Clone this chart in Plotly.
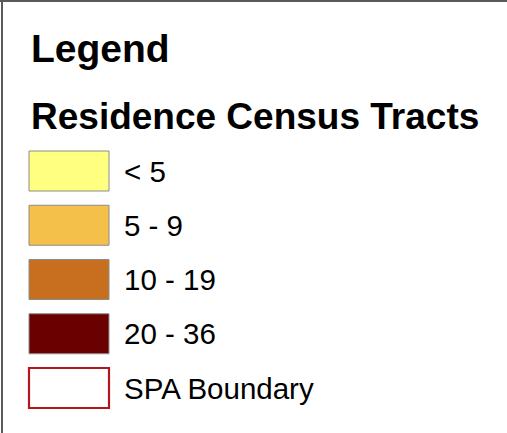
import plotly.graph_objects as go

title_text = "Legend"
subtitle_text = "Residence Census Tracts"
categories = ["< 5", "5 - 9", "10 - 19", "20 - 36", "SPA Boundary"]
fill_colors = ["#FFFF80", "#F5C04A", "#C76F1E", "#6A0000", "#FFFFFF"]
edge_colors = ["#8C8C8C", "#8C8C8C", "#8C8C8C", "#8C8C8C", "#B2181B"]
edge_widths = [1, 1, 1, 1, 2.2]

W, H = 507, 433
pos = list(range(len(categories)))
step = 54.25
first_center = 171
y_top = -first_center / step
y_bot = (H - first_center) / step

FONT = "Liberation Sans, Arial, Helvetica, sans-serif"

fig = go.Figure()
fig.add_trace(go.Bar(
    orientation="h",
    y=pos,
    x=[80] * len(pos),
    base=29,
    width=40 / step,
    marker=dict(color=fill_colors, line=dict(color=edge_colors, width=edge_widths)),
    hoverinfo="skip",
    showlegend=False,
))

annotations = []
for p, lab in zip(pos, categories):
    annotations.append(dict(
        x=122, y=p, xref="x", yref="y", text=lab, showarrow=False,
        xanchor="left", yanchor="middle",
        font=dict(family=FONT, size=29.5, color="#000000"),
    ))
for txt, yc, fs in [(title_text, 48.5, 39), (subtitle_text, 116, 37)]:
    annotations.append(dict(
        x=28.5, y=1 - yc / H, xref="x", yref="paper", text="<b>" + txt + "</b>",
        showarrow=False, xanchor="left", yanchor="middle",
        font=dict(family=FONT, size=fs, color="#000000"),
    ))

fig.update_layout(
    width=W, height=H,
    margin=dict(l=0, r=0, t=0, b=0),
    paper_bgcolor="white", plot_bgcolor="white",
    xaxis=dict(range=[0, W], visible=False, fixedrange=True),
    yaxis=dict(range=[y_bot, y_top], visible=False, fixedrange=True),
    annotations=annotations,
    shapes=[
        dict(type="line", xref="paper", yref="paper", x0=0, x1=1,
             y0=1 - 1 / H, y1=1 - 1 / H, line=dict(color="#5A5A5A", width=2)),
        dict(type="line", xref="paper", yref="paper", x0=2 / W, x1=2 / W,
             y0=0, y1=1, line=dict(color="#5A5A5A", width=2)),
    ],
)

fig.write_html("out.html", config={"displayModeBar": False},
               post_script="document.body.style.margin='0';document.body.style.overflow='hidden';")
